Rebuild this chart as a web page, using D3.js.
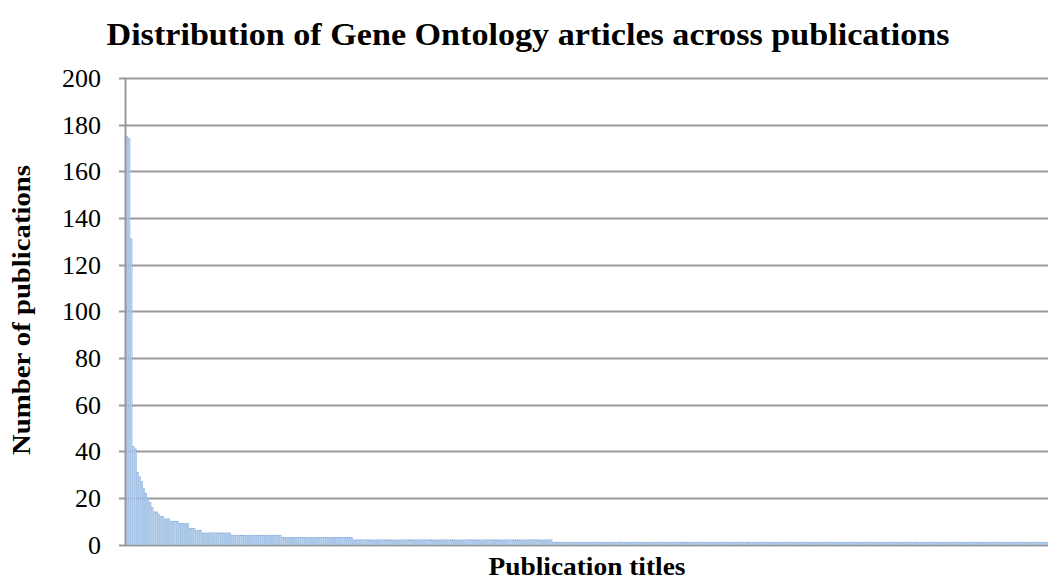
<!DOCTYPE html>
<html>
<head>
<meta charset="utf-8">
<script src="https://cdn.jsdelivr.net/npm/d3@7"></script>
<style>
  body { margin: 0; background: #fff; }
  text { font-family: "Liberation Serif", "DejaVu Serif", serif; fill: #000; }
</style>
</head>
<body>
<script>
const width = 1048;
const height = 579;
const margin = { l: 126, r: 0, t: 78, b: 34 };

// leading bars, read one by one
const headCounts = [175, 174, 131, 42, 41, 31, 29, 27, 24, 22, 20, 18, 16, 14, 14, 13, 12, 12, 11, 11, 11,
  10, 10, 10, 10, 9, 9, 9, 9, 9, 7, 7, 7, 6, 6, 6];
// long tail: level and how many bars sit at that level
const tailLevels = [5, 4, 3, 2, 1];
const tailRuns = [14, 24, 34, 95, 236];
const yTicks = [0, 20, 40, 60, 80, 100, 120, 140, 160, 180, 200];

const titleText = "Distribution of Gene Ontology articles across publications";
const yTitle = "Number of publications";
const xTitle = "Publication titles";

const counts = headCounts.concat(
  ...tailLevels.map((v, i) => Array(tailRuns[i]).fill(v))
);

const svg = d3.select("body")
  .append("svg")
  .attr("width", width)
  .attr("height", height);

const x = d3.scaleBand()
  .domain(counts.map((d, i) => i))
  .range([margin.l, width - margin.r])
  .paddingInner(0.3)
  .paddingOuter(0.2);

const y = d3.scaleLinear()
  .domain([0, 200])
  .range([height - margin.b - 0.5, margin.t]);

// gridlines
svg.append("g")
  .selectAll("line")
  .data(yTicks)
  .enter()
  .append("line")
  .attr("x1", margin.l - 7)
  .attr("x2", width)
  .attr("y1", (d) => Math.round(y(d)) + 0.5)
  .attr("y2", (d) => Math.round(y(d)) + 0.5)
  .style("stroke", "#999")
  .style("stroke-width", 1.8);

// bars
svg.append("g")
  .selectAll("rect")
  .data(counts)
  .enter()
  .append("rect")
  .attr("x", (d, i) => x(i))
  .attr("width", x.bandwidth())
  .attr("y", (d) => y(d))
  .attr("height", (d) => y(0) - y(d))
  .style("fill", "#c4d8f0")
  .style("stroke", "#80a9da")
  .style("stroke-width", 0.5);

// y axis line
svg.append("line")
  .attr("x1", margin.l - 0.5)
  .attr("x2", margin.l - 0.5)
  .attr("y1", y(200))
  .attr("y2", y(0) + 1)
  .style("stroke", "#999")
  .style("stroke-width", 2);

// tick labels
svg.append("g")
  .selectAll("text")
  .data(yTicks)
  .enter()
  .append("text")
  .attr("x", 101)
  .attr("y", (d) => y(d))
  .attr("dy", "0.35em")
  .attr("text-anchor", "end")
  .style("font-size", "26px")
  .text((d) => d);

svg.append("text")
  .attr("x", 528)
  .attr("y", 45)
  .attr("text-anchor", "middle")
  .attr("textLength", 843)
  .attr("lengthAdjust", "spacingAndGlyphs")
  .style("font-size", "31px")
  .style("font-weight", "bold")
  .text(titleText);

svg.append("text")
  .attr("transform", "translate(30,310) rotate(-90)")
  .attr("text-anchor", "middle")
  .attr("textLength", 290)
  .attr("lengthAdjust", "spacingAndGlyphs")
  .style("font-size", "25px")
  .style("font-weight", "bold")
  .text(yTitle);

svg.append("text")
  .attr("x", 587)
  .attr("y", 575)
  .attr("text-anchor", "middle")
  .attr("textLength", 197)
  .attr("lengthAdjust", "spacingAndGlyphs")
  .style("font-size", "25px")
  .style("font-weight", "bold")
  .text(xTitle);
</script>
</body>
</html>
